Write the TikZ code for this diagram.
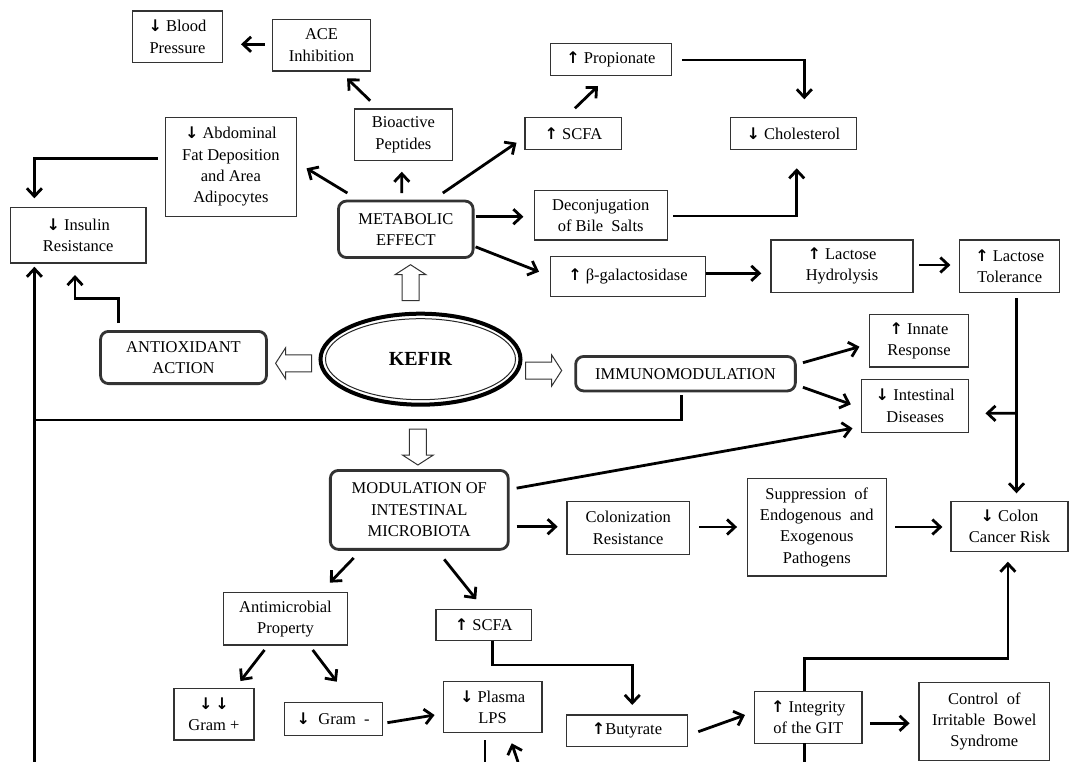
\documentclass[tikz,border=0pt]{standalone}
\usepackage{fontspec}
\setmainfont{Liberation Serif}
\newfontfamily\arrfont{DejaVu Sans}
\usetikzlibrary{arrows.meta,shapes.geometric}
\newcommand\dgfont{\fontsize{16.5}{21.3}\selectfont}
\newcommand\myup{{\arrfont\bfseries\fontsize{16}{16}\selectfont ↑}}
\newcommand\mydn{{\arrfont\bfseries\fontsize{16}{16}\selectfont ↓}}
\begin{document}
\begin{tikzpicture}[x=1pt,y=-1pt,
  box/.style={draw=black!80, line width=1.2pt, inner sep=0pt, outer sep=0pt, align=center, font=\dgfont, text=black},
  rbox/.style={box, line width=2.8pt, rounded corners=8pt},
  arr/.style={line width=2.8pt, -{Straight Barb[length=8pt,width=15pt]}},
  ln/.style={line width=2.8pt},
  hollow/.style={draw=black!80, line width=1pt, fill=white, line join=miter},
  harrow/.pic={\draw[hollow] (0,-8.5) -- (26,-8.5) -- (26,-15.5) -- (36,0) -- (26,15.5) -- (26,8.5) -- (0,8.5) -- cycle;}]
\useasboundingbox (0,0) rectangle (1071,762);
\fill[white] (0,0) rectangle (1071,762);

% ---- nodes ----
\node[box, minimum width=90pt, minimum height=51.3pt] (blood) at (177.5,36.7) {\mydn\ Blood\\Pressure};
\node[box, minimum width=98pt, minimum height=51.7pt] (ace) at (321.5,45.2) {ACE\\Inhibition};
\node[box, minimum width=98pt, minimum height=51.3pt] (bio) at (403.4,134.7) {Bioactive\\Peptides};
\node[box, minimum width=130.5pt, minimum height=99pt] (abd) at (230.9,166.8) {\mydn\ Abdominal\\Fat Deposition\\and Area\\Adipocytes};
\node[box, minimum width=135.7pt, minimum height=55.7pt] (ins) at (78.2,235.2) {\mydn\ Insulin\\Resistance};
\node[rbox, minimum width=134.6pt, minimum height=56.5pt] (met) at (405.8,229.3) {METABOLIC\\EFFECT};
\node[box, minimum width=96.8pt, minimum height=32pt] (scfa1) at (573.4,133.7) {\myup\ SCFA};
\node[box, minimum width=120.4pt, minimum height=32pt] (prop) at (610.9,59.3) {\myup\ Propionate};
\node[box, minimum width=126pt, minimum height=32pt] (chol) at (793.5,133.7) {\mydn\ Cholesterol};
\node[box, minimum width=133.2pt, minimum height=49.3pt] (decon) at (600.7,215.3) {Deconjugation\\of Bile~ Salts};
\node[box, minimum width=154.6pt, minimum height=40pt] (bgal) at (628,276.7) {\myup\ β-galactosidase};
\node[box, minimum width=142pt, minimum height=52.3pt] (hyd) at (842,266.2) {\myup\ Lactose\\Hydrolysis};
\node[box, minimum width=100pt, minimum height=52.3pt] (tol) at (1009.7,266.2) {\myup\ Lactose\\Tolerance};
\node[box, minimum width=98.3pt, minimum height=52.7pt] (innate) at (919,340.7) {\myup\ Innate\\Response};
\node[box, minimum width=107.3pt, minimum height=53pt] (intd) at (915.2,405.8) {\mydn\ Intestinal\\Diseases};
\node[rbox, minimum width=219.7pt, minimum height=34.5pt] (immuno) at (685.5,373.7) {IMMUNOMODULATION};
\node[rbox, minimum width=165.9pt, minimum height=52.2pt] (anti) at (183.5,357.5) {ANTIOXIDANT\\ACTION};
\node[ellipse, draw=black, line width=4pt, inner sep=0pt, outer sep=0pt, minimum width=200pt, minimum height=91pt, font=\fontsize{20}{24}\selectfont\bfseries] (kefir) at (420.5,359.2) {KEFIR};
\draw[line width=1pt, black!85] (kefir.center) ellipse [x radius=95, y radius=40.5];
\node[rbox, minimum width=177.9pt, minimum height=78.9pt] (mod) at (419.3,509.9) {MODULATION OF\\INTESTINAL\\MICROBIOTA};
\node[box, minimum width=122.5pt, minimum height=52.6pt] (colz) at (628.2,528) {Colonization\\Resistance};
\node[box, minimum width=138.7pt, minimum height=97.7pt] (supp) at (816.8,527.2) {Suppression~ of\\Endogenous~ and\\Exogenous\\Pathogens};
\node[box, minimum width=117pt, minimum height=49.6pt] (colon) at (1009.5,526.5) {\mydn\ Colon\\Cancer Risk};
\node[box, minimum width=123.3pt, minimum height=52.3pt] (antim) at (285.5,618.8) {Antimicrobial\\Property};
\node[box, minimum width=95.3pt, minimum height=31.4pt] (scfa2) at (483.7,625) {\myup\ SCFA};
\node[box, minimum width=80pt, minimum height=51.7pt] (gp) at (213.9,714.2) {\mydn\,\mydn\\Gram +};
\node[box, minimum width=98pt, minimum height=33pt] (gm) at (333.2,719.2) {\mydn~ Gram~ -};
\node[box, minimum width=98.8pt, minimum height=50.6pt] (plasma) at (492.6,707) {\mydn\ Plasma\\LPS};
\node[box, minimum width=120.6pt, minimum height=31.7pt] (buty) at (627,730.8) {\myup Butyrate};
\node[box, minimum width=107.4pt, minimum height=52pt] (integ) at (808.3,717.3) {\myup\ Integrity\\of the GIT};
\node[box, minimum width=130.8pt, minimum height=78.4pt] (ctrl) at (984.3,721.5) {Control~ of\\Irritable~ Bowel\\Syndrome};

% ---- hollow arrows from KEFIR ----
\pic[rotate=90] at (410.5,300.7) {harrow};
\pic[rotate=180] at (311.6,363.3) {harrow};
\pic at (525.7,370.5) {harrow};
\pic[rotate=-90] at (417.9,429) {harrow};

% ---- free-end coordinates ----
\coordinate (lft) at (34.4,420);
\coordinate (lbot) at (34.4,762);
\coordinate (pbot1) at (485,762);
\coordinate (pbot2) at (518,762);
\coordinate (ibot) at (804.3,762);
\coordinate (br) at ([shift={(6.8,121)}]tol.south);

% ---- connectors ----
\draw[arr] ([shift={(-7.9,-0.9)}]ace.west) -- ([shift={(18.5,7.6)}]blood.east);
\draw[arr] ([shift={(-33.2,-8.3)}]bio.north) -- ([shift={(25.6,7.3)}]ace.south);
\draw[arr] ([shift={(-7.9,-8.5)}]abd.west) -| ([shift={(-43.8,-9)}]ins.north);
\draw[arr] ([shift={(8.9,-8)}]met.north west) -- ([shift={(10.4,1.5)}]abd.east);
\draw[arr] ([shift={(-4,-8)}]met.north) -- ([shift={(-1.6,11.4)}]bio.south);
\draw[arr] ([shift={(-30.3,-8)}]met.north east) -- ([shift={(-8.5,9)}]scfa1.west);
\draw[arr] ([shift={(1.5,-9.4)}]scfa1.north) -- ([shift={(-12.9,10.7)}]prop.south);
\draw[arr] ([shift={(10.7,0.7)}]prop.east) -| ([shift={(10.8,-18.4)}]chol.north);
\draw[arr] ([shift={(2.5,-12.6)}]met.east) -- ([shift={(-10.7,1.4)}]decon.west);
\draw[arr] ([shift={(5.9,0.7)}]decon.east) -| ([shift={(3.2,18.6)}]chol.south);
\draw[arr] ([shift={(2.5,-10.7)}]met.south east) -- ([shift={(-11.7,-5)}]bgal.west);
\draw[arr] ([shift={(1,-3.4)}]bgal.east) -- ([shift={(-9.7,7.1)}]hyd.west);
\draw[arr] ([shift={(6.2,-1.2)}]hyd.east) -- ([shift={(-9.3,-1.2)}]tol.west);
\draw[arr] ([shift={(17.8,-8.3)}]anti.north west) -- ++(0,-25) -| ([shift={(-3.2,12)}]ins.south);
\draw[arr] (lbot) -- ([shift={(-43.8,3.7)}]ins.south);
\draw[ln] ([shift={(-3.7,4.4)}]immuno.south) |- (lft);
\draw[arr] ([shift={(7.6,-11)}]immuno.east) -- ([shift={(-10.4,6)}]innate.west);
\draw[arr] ([shift={(7.6,13.6)}]immuno.east) -- ([shift={(-10.7,-1.5)}]intd.west);
\draw[arr] ([shift={(6.8,6)}]tol.south) -- ([shift={(7,-8.4)}]colon.north);
\draw[arr] (br) -- ([shift={(16.6,7.5)}]intd.east);
\draw[arr] ([shift={(8.4,17.7)}]mod.north east) -- ([shift={(-9,-4)}]intd.south west);
\draw[arr] ([shift={(8.4,16.8)}]mod.east) -- ([shift={(-9.3,-1.3)}]colz.west);
\draw[arr] ([shift={(9.6,-1)}]colz.east) -- ([shift={(-10.4,-0.2)}]supp.west);
\draw[arr] ([shift={(8.9,-0.2)}]supp.east) -- ([shift={(-8.6,0.5)}]colon.west);
\draw[arr] ([shift={(-65.6,8.6)}]mod.south) -- ([shift={(44.4,-10)}]antim.north);
\draw[arr] ([shift={(24.9,10)}]mod.south) -- ([shift={(-7.5,-10)}]scfa2.north);
\draw[arr] ([shift={(-21,5)}]antim.south) -- ([shift={(26.5,-7.3)}]gp.north);
\draw[arr] ([shift={(27.2,5)}]antim.south) -- ([shift={(3.6,-21)}]gm.north);
\draw[arr] ([shift={(5.2,3.5)}]gm.east) -- ([shift={(-8.6,8)}]plasma.west);
\draw[arr] ([shift={(9,0)}]scfa2.south) -- ++(0,24.3) -| ([shift={(5.3,-10)}]buty.north);
\draw[arr] ([shift={(11,0.9)}]buty.east) -- ([shift={(-9.6,-2.3)}]integ.west);
\draw[arr] ([shift={(7.9,6)}]integ.east) -- ([shift={(-9.3,1.8)}]ctrl.west);
\draw[arr] ([shift={(-4,0)}]integ.north) -- ++(0,-33) -| ([shift={(-1.6,10.4)}]colon.south);
\draw[ln] ([shift={(-4,0)}]integ.south) -- (ibot);
\draw[ln] ([shift={(-7.6,7.7)}]plasma.south) -- (pbot1);
\draw[arr] (pbot2) -- ([shift={(19.1,11)}]plasma.south);
\end{tikzpicture}
\end{document}
